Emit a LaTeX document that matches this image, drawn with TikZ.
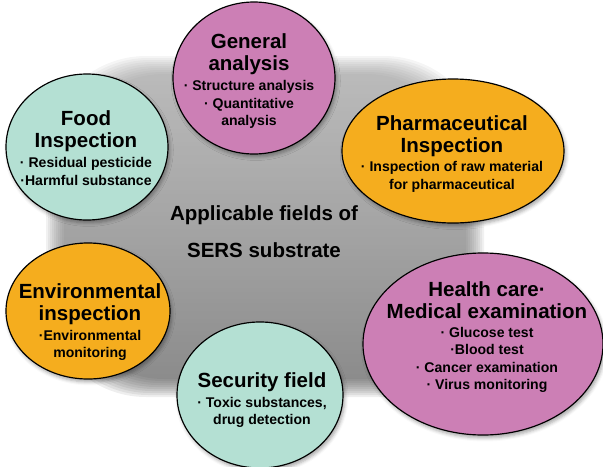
\documentclass[tikz,border=0pt]{standalone}
\usepackage{fontspec}
\setmainfont{Liberation Sans}
\usetikzlibrary{shapes.geometric,shadows.blur}

\definecolor{fieldpink}{RGB}{204,127,181}
\definecolor{fieldteal}{RGB}{180,224,211}
\definecolor{fieldorange}{RGB}{245,173,30}
\definecolor{blobtop}{RGB}{150,150,150}
\definecolor{blobbottom}{RGB}{72,72,72}

\newcommand{\fieldtitle}{\fontsize{17.5}{19}\selectfont\bfseries}
\newcommand{\fielditem}{\fontsize{12}{15}\selectfont\bfseries}

\tikzset{
    field/.style={ellipse, draw=black, line width=1pt, inner sep=0pt,
        blur shadow={shadow xshift=1.5pt, shadow yshift=-2.5pt,
            shadow blur radius=3pt, shadow opacity=35}},
    fieldtext/.style={align=center, inner sep=0pt, font=\fielditem},
    hubtext/.style={align=center, inner sep=0pt,
        font=\fontsize{17.5}{31.5}\selectfont\bfseries},
}

\begin{document}
\begin{tikzpicture}[x=0.03cm, y=-0.03cm]
    \useasboundingbox (0,0) rectangle (603,467);

    % soft grey backdrop, built from stacked translucent layers
    \foreach \i in {0,...,9} {
        \shade[rounded corners=3cm, top color=blobtop, bottom color=blobbottom, opacity=0.095]
            ({46+2*\i},{56+2*\i}) rectangle ({484-2*\i},{397-2*\i});
    }

    % the six fields
    \node[field, fill=fieldpink, minimum width=4.86cm, minimum height=4.56cm] (general) at (254,78) {};
    \node[field, fill=fieldteal, minimum width=4.86cm, minimum height=4.38cm] (food) at (87,147) {};
    \node[field, fill=fieldorange, minimum width=6.66cm, minimum height=4.32cm] (pharma) at (453,151) {};
    \node[field, fill=fieldpink, minimum width=7.2cm, minimum height=5.46cm] (health) at (483,344) {};
    \node[field, fill=fieldorange, minimum width=4.92cm, minimum height=4.08cm] (env) at (88,311) {};
    \node[field, fill=fieldteal, minimum width=4.98cm, minimum height=4.38cm] (security) at (260,395) {};

    \node[fieldtext] (general-txt) at (249,81) {\fieldtitle General\\[4pt]
        \fieldtitle analysis\\[2pt] · Structure analysis\\ · Quantitative\\ analysis};
    \node[fieldtext] (food-txt) at (86,148) {\fieldtitle Food\\[4pt]
        \fieldtitle Inspection\\[2pt] · Residual pesticide\\ ·Harmful substance};
    \node[fieldtext] (pharma-txt) at (452,154) {\fieldtitle Pharmaceutical\\[4pt]
        \fieldtitle Inspection\\[1pt] · Inspection of raw material\\ for pharmaceutical};
    \node[fieldtext] (health-txt) at (487,337) {\fieldtitle Health care·\\[4pt]
        \fieldtitle Medical examination\\[1pt] · Glucose test\\ ·Blood test\\
        · Cancer examination\\ · Virus monitoring};
    \node[fieldtext] (env-txt) at (90,322) {\fieldtitle Environmental\\[4pt]
        \fieldtitle inspection\\[2pt] ·Environmental\\ monitoring};
    \node[fieldtext] (security-txt) at (262,400) {\fieldtitle Security field\\[2pt]
        · Toxic substances,\\ drug detection};

    % centre caption
    \node[hubtext] (hub) at (264,232) {Applicable fields of\\SERS substrate};

\end{tikzpicture}
\end{document}
